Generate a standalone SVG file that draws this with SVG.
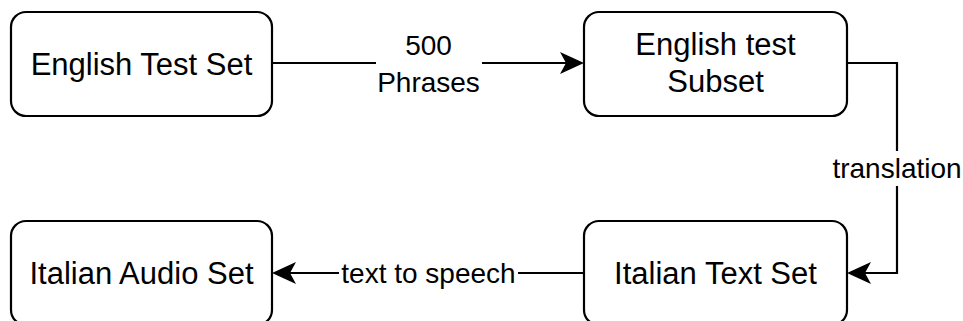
<svg xmlns="http://www.w3.org/2000/svg" width="963" height="321" viewBox="0 0 963 321">
  <style>
    .node rect { fill: #ffffff; stroke: #000000; stroke-width: 2.2; }
    .node text { font-family: "Liberation Sans", Arial, sans-serif; font-size: 31px; fill: #000000; text-anchor: middle; }
    .edge { fill: none; stroke: #000000; stroke-width: 2.2; }
    .lbl rect { fill: #ffffff; stroke: none; }
    .lbl text { font-family: "Liberation Sans", Arial, sans-serif; font-size: 28px; fill: #000000; text-anchor: middle; }
  </style>
  <defs>
    <marker id="arrow" viewBox="0 0 24 22" refX="16" refY="11" markerWidth="24" markerHeight="22" markerUnits="userSpaceOnUse" orient="auto">
      <path d="M24,11 L0,0 L6,11 L0,22 Z" fill="#000000"/>
    </marker>
  </defs>
  <rect width="963" height="321" fill="#ffffff"/>

  <!-- connectors -->
  <g id="edges">
    <path class="edge" d="M272,63 L576,63" marker-end="url(#arrow)"/>
    <path class="edge" d="M847,63 L897,63 L897,273 L855,273" marker-end="url(#arrow)"/>
    <path class="edge" d="M584,273 L280,273" marker-end="url(#arrow)"/>
    <g class="lbl">
      <rect x="376" y="28" width="106" height="72"/>
      <text x="428.5" y="55">500</text>
      <text x="428.5" y="92">Phrases</text>
      <rect x="831" y="151" width="132" height="35"/>
      <text x="897" y="177.5">translation</text>
      <rect x="339" y="256" width="179" height="34"/>
      <text x="428.5" y="282.5">text to speech</text>
    </g>
  </g>

  <g id="english-test-set" class="node">
    <rect x="11" y="12" width="261" height="104" rx="15" ry="15"/>
    <text x="141.5" y="74.5">English Test Set</text>
  </g>
  <g id="english-test-subset" class="node">
    <rect x="584" y="12" width="263" height="104" rx="15" ry="15"/>
    <text x="715.5" y="55">English test</text>
    <text x="715.5" y="92">Subset</text>
  </g>
  <g id="italian-text-set" class="node">
    <rect x="584" y="221" width="263" height="104" rx="15" ry="15"/>
    <text x="715.5" y="283.5">Italian Text Set</text>
  </g>
  <g id="italian-audio-set" class="node">
    <rect x="11" y="221" width="261" height="104" rx="15" ry="15"/>
    <text x="141.5" y="283.5">Italian Audio Set</text>
  </g>
</svg>
